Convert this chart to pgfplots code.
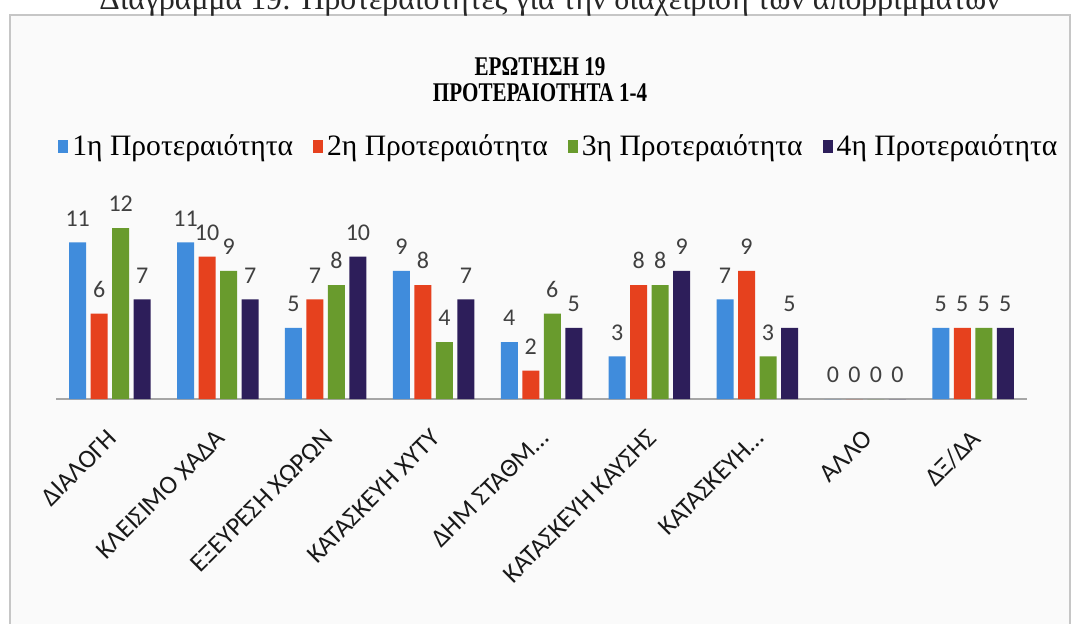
\documentclass[border=0pt]{standalone}
\usepackage{pgfplots}
\pgfplotsset{compat=1.18}
\usepackage{fontspec}
\setmainfont{Carlito}
\newfontfamily\tms{Liberation Serif}
\newfontfamily\tmsc[FakeStretch=0.78]{Liberation Serif}
\definecolor{cblue}{RGB}{64,140,220}
\definecolor{cred}{RGB}{230,65,30}
\definecolor{cgreen}{RGB}{105,155,45}
\definecolor{cpurple}{RGB}{45,30,90}
\begin{document}
\begin{tikzpicture}
\useasboundingbox (0pt,0pt) rectangle (538pt,311.5pt);
\clip (0pt,0pt) rectangle (538pt,311.5pt);
\draw[gray!45, fill=gray!4, line width=0.6pt] (5pt,-5pt) rectangle (535pt,304pt);
\node[anchor=base, inner sep=0pt, font=\tms\fontsize{15.9}{18}\selectfont, text=black!85] at (275pt,306.5pt) {Διάγραμμα 19: Προτεραιότητες για την διαχείριση των απορριμμάτων};
\node[anchor=base, inner sep=0pt, font=\tmsc\bfseries\fontsize{13.5}{16}\selectfont] at (270pt,273.5pt) {ΕΡΩΤΗΣΗ 19};
\node[anchor=base, inner sep=0pt, font=\tmsc\bfseries\fontsize{13.5}{16}\selectfont] at (270pt,261pt) {ΠΡΟΤΕΡΑΙΟΤΗΤΑ 1-4};
\begin{axis}[
  at={(28pt,112pt)}, anchor=south west,
  scale only axis, width=485.5pt, height=92.6pt,
  ybar=2.25pt, bar width=8.5pt,
  xmin=-0.5, xmax=8.5, ymin=0, ymax=13,
  axis x line=bottom, axis y line=none,
  axis line style={-, gray!70, line width=0.8pt},
  xtick={0,1,2,3,4,5,6,7,8}, xtick style={draw=none}, ytick=\empty,
  xticklabels={{ΔΙΑΛΟΓΗ}, {ΚΛΕΙΣΙΜΟ ΧΑΔΑ}, {ΕΞΕΥΡΕΣΗ ΧΩΡΩΝ}, {ΚΑΤΑΣΚΕΥΗ ΧΥΤΥ}, {ΔΗΜ ΣΤΑΘΜ…}, {ΚΑΤΑΣΚΕΥΗ ΚΑΥΣΗΣ}, {ΚΑΤΑΣΚΕΥΗ…}, {ΆΛΛΟ}, {ΔΞ/ΔΑ}},
  xticklabel style={rotate=45, anchor=north east, font=\fontsize{13}{15}\selectfont, text=black!90, xshift=-6.5pt, yshift=-4pt},
  /pgf/number format/assume math mode=true,
  nodes near coords,
  every node near coord/.append style={font=\fontsize{12}{14}\selectfont, text=black!75, yshift=4.5pt},
  clip=false,
  legend columns=4,
  legend image code/.code={\fill[#1] (0pt,-3.25pt) rectangle (5pt,3.25pt);},
  legend style={draw=none, fill=none, font=\tms\fontsize{14.8}{17}\selectfont,
    /tikz/every even column/.append style={column sep=8pt},
    at={(0,1)}, anchor=west, xshift=-2pt, yshift=33.5pt},
]
\addplot[fill=cblue, draw=none] coordinates {(0,11) (1,11) (2,5) (3,9) (4,4) (5,3) (6,7) (7,0) (8,5)};
\addplot[fill=cred, draw=none] coordinates {(0,6) (1,10) (2,7) (3,8) (4,2) (5,8) (6,9) (7,0) (8,5)};
\addplot[fill=cgreen, draw=none] coordinates {(0,12) (1,9) (2,8) (3,4) (4,6) (5,8) (6,3) (7,0) (8,5)};
\addplot[fill=cpurple, draw=none] coordinates {(0,7) (1,7) (2,10) (3,7) (4,5) (5,9) (6,5) (7,0) (8,5)};
\legend{1η Προτεραιότητα, 2η Προτεραιότητα, 3η Προτεραιότητα, 4η Προτεραιότητα}
\end{axis}
\end{tikzpicture}
\end{document}
